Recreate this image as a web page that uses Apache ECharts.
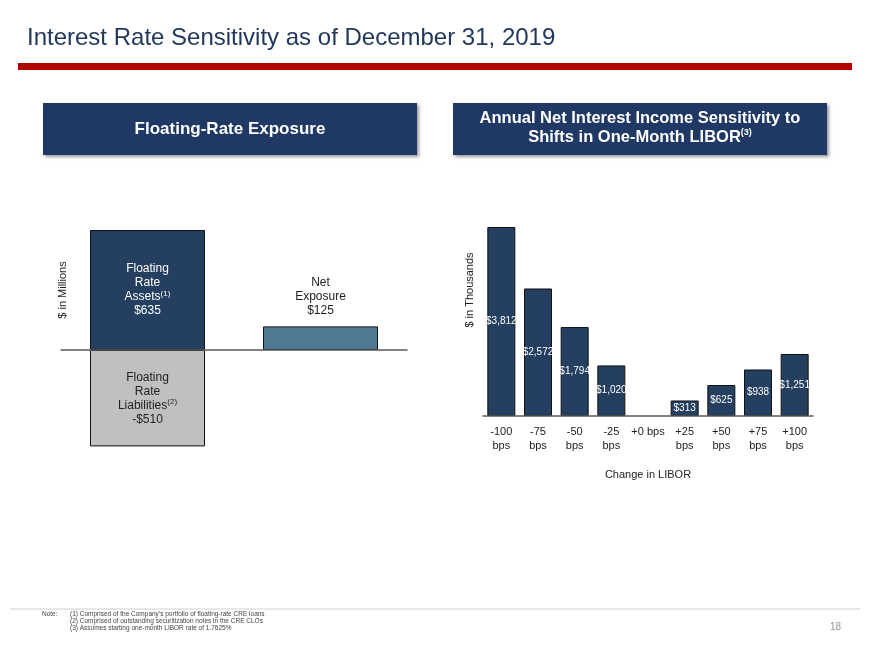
<!DOCTYPE html>
<html><head><meta charset="utf-8">
<script src="https://cdn.jsdelivr.net/npm/echarts@6/dist/echarts.min.js"></script>
<style>html,body{margin:0;padding:0;background:#fff}#c{width:870px;height:652px}</style>
</head><body><div id="c"></div>
<script>
// ---- data ----
const exposureCategories = ['Floating Rate', 'Net Exposure'];
const floatingAssets = [635, null];
const floatingLiabilities = [-510, null];
const netExposure = [null, 125];

const liborCategories = ['-100 bps', '-75 bps', '-50 bps', '-25 bps', '+0 bps', '+25 bps', '+50 bps', '+75 bps', '+100 bps'];
const niiValues = [3812, 2572, 1794, 1020, null, 313, 625, 938, 1251];

const noteLines = [
  '(1) Comprised of the Company\u2019s portfolio of floating-rate CRE loans',
  '(2) Comprised of outstanding securitization notes in the CRE CLOs',
  '(3) Assumes starting one-month LIBOR rate of 1.7625%'
];

// ---- chart ----
const FONT = '"Liberation Sans", Arial, sans-serif';
const NAVY = '#1F3864';
const BAR_NAVY = '#243F60';
const chart = echarts.init(document.getElementById('c'), null, {renderer: 'canvas'});
const money = v => (v < 0 ? '-$' : '$') + Math.abs(v).toLocaleString('en-US');

function header(x, y, w, h, textStyle) {
  return {
    type: 'group', x: x, y: y,
    children: [
      {type: 'rect', shape: {x: 0, y: 0, width: w, height: h},
       style: {fill: NAVY, shadowBlur: 3, shadowOffsetX: 2, shadowOffsetY: 2, shadowColor: 'rgba(0,0,0,0.4)'}},
      {type: 'text', style: Object.assign({x: w / 2, y: h / 2, align: 'center', verticalAlign: 'middle', fill: '#fff'}, textStyle)}
    ]
  };
}

const graphics = [
  {type: 'text', style: {text: 'Interest Rate Sensitivity as of December 31, 2019', x: 27, y: 38, verticalAlign: 'middle',
    fill: '#22385C', font: '24px ' + FONT}},
  {type: 'rect', shape: {x: 18, y: 63, width: 834, height: 7}, style: {fill: '#B00000'}},
  header(43, 103, 374, 52, {text: 'Floating-Rate Exposure', font: 'bold 17px ' + FONT}),
  header(453, 103, 374, 52, {
    y: 25,
    text: '{b|Annual Net Interest Income Sensitivity to}\n{b|Shifts in One-Month LIBOR}{s|(3)}',
    rich: {
      b: {fontFamily: FONT, fontWeight: 'bold', fontSize: 16.5, lineHeight: 19, fill: '#fff', color: '#fff'},
      s: {fontFamily: FONT, fontWeight: 'bold', fontSize: 9, lineHeight: 19, verticalAlign: 'top', fill: '#fff', color: '#fff'}
    }
  }),
  {type: 'text', rotation: Math.PI / 2, x: 63, y: 290,
   style: {text: '$ in Millions', x: 0, y: 0, align: 'center', verticalAlign: 'middle', fill: '#222', font: '11px ' + FONT}},
  {type: 'text', rotation: Math.PI / 2, x: 470, y: 290,
   style: {text: '$ in Thousands', x: 0, y: 0, align: 'center', verticalAlign: 'middle', fill: '#222', font: '11px ' + FONT}},
  {type: 'line', shape: {x1: 10, y1: 609, x2: 860, y2: 609}, style: {stroke: '#D0D0D0', lineWidth: 1}},
  {type: 'text', style: {text: 'Note:', x: 42, y: 614, verticalAlign: 'middle', fill: '#444', font: '6.5px ' + FONT}},
  {type: 'text', style: {text: '18', x: 830, y: 627, verticalAlign: 'middle', fill: '#9A9A9A', font: '10px ' + FONT}}
];
noteLines.forEach((t, i) => graphics.push(
  {type: 'text', style: {text: t, x: 70, y: 614 + i * 7, verticalAlign: 'middle', fill: '#444', font: '6.5px ' + FONT}}
));

const axisLine = {show: true, onZero: true, lineStyle: {color: '#595959', width: 1.5}};

const option = {
  animation: false,
  backgroundColor: '#fff',
  textStyle: {fontFamily: FONT},
  graphic: graphics,
  grid: [
    {left: 61, width: 346, top: 217.7, height: 264.6},
    {left: 483, width: 330, top: 217.7, height: 198.3}
  ],
  xAxis: [
    {type: 'category', gridIndex: 0, data: exposureCategories, axisLine: axisLine,
     axisTick: {show: false}, axisLabel: {show: false}, z: 5},
    {type: 'category', gridIndex: 1, data: liborCategories, axisLine: axisLine, axisTick: {show: false},
     axisLabel: {color: '#222', fontSize: 11, lineHeight: 14, margin: 9, interval: 0, hideOverlap: false,
                 formatter: v => v === '+0 bps' ? v : v.replace(' ', '\n')},
     name: 'Change in LIBOR', nameLocation: 'middle', nameGap: 53,
     nameTextStyle: {color: '#222', fontSize: 11}, z: 5}
  ],
  yAxis: [
    {type: 'value', gridIndex: 0, min: -700, max: 700, show: false},
    {type: 'value', gridIndex: 1, min: 0, max: 4000, show: false}
  ],
  series: [
    {type: 'bar', xAxisIndex: 0, yAxisIndex: 0, data: floatingAssets, barWidth: 115, barGap: '-100%',
     itemStyle: {color: BAR_NAVY, borderColor: '#111', borderWidth: 1},
     label: {show: true, position: 'inside',
       formatter: p => '{a|Floating}\n{a|Rate}\n{a|Assets}{s|(1)}\n{a|' + money(p.value) + '}',
       rich: {a: {color: '#fff', fontSize: 12, lineHeight: 14}, s: {color: '#fff', fontSize: 8, lineHeight: 14, verticalAlign: 'top'}}}},
    {type: 'bar', xAxisIndex: 0, yAxisIndex: 0, data: floatingLiabilities, barWidth: 115, barGap: '-100%',
     itemStyle: {color: '#C0C0C0', borderColor: '#111', borderWidth: 1},
     label: {show: true, position: 'inside',
       formatter: p => '{a|Floating}\n{a|Rate}\n{a|Liabilities}{s|(2)}\n{a|' + money(p.value) + '}',
       rich: {a: {color: '#222', fontSize: 12, lineHeight: 14}, s: {color: '#222', fontSize: 8, lineHeight: 14, verticalAlign: 'top'}}}},
    {type: 'bar', xAxisIndex: 0, yAxisIndex: 0, data: netExposure, barWidth: 115, barGap: '-100%',
     itemStyle: {color: '#4F7A94', borderColor: '#111', borderWidth: 1},
     label: {show: true, position: 'top', distance: 9, color: '#222', fontSize: 12, lineHeight: 14,
       formatter: p => 'Net\nExposure\n' + money(p.value)}},
    {type: 'bar', xAxisIndex: 1, yAxisIndex: 1, data: niiValues, barWidth: 28,
     itemStyle: {color: BAR_NAVY, borderColor: '#111', borderWidth: 1},
     label: {show: true, position: 'inside', color: '#fff', fontSize: 10,
       formatter: p => p.value == null ? '' : money(p.value)}}
  ]
};
chart.setOption(option);
</script></body></html>
